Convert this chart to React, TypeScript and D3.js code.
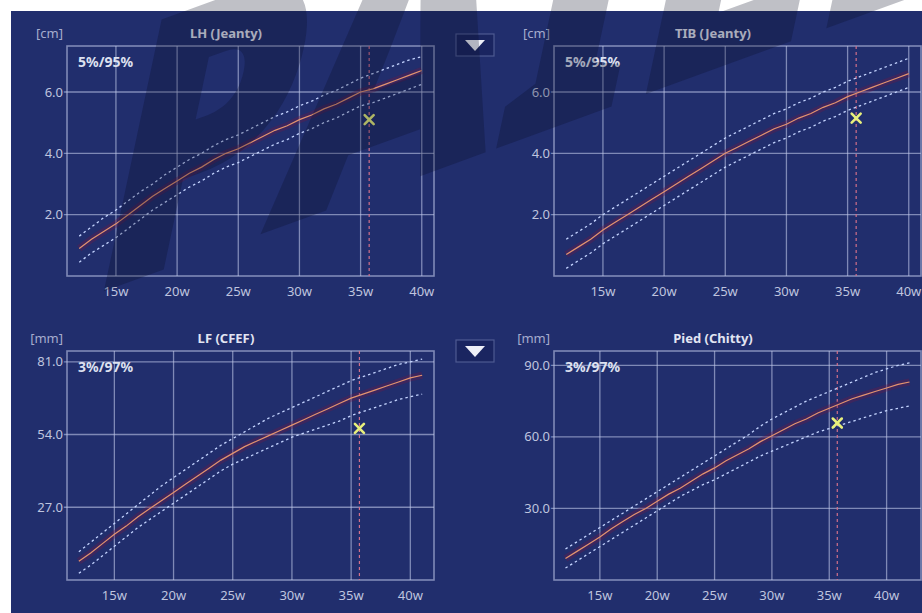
import React from 'react';
import * as d3 from 'd3';

// gestational weeks for each chart
const weeksTop = [12, 13, 14, 15, 16, 17, 18, 19, 20, 21, 22, 23, 24, 25, 26, 27, 28, 29, 30, 31, 32, 33, 34, 35, 36, 37, 38, 39, 40];
const weeksLF = [12, 13, 14, 15, 16, 17, 18, 19, 20, 21, 22, 23, 24, 25, 26, 27, 28, 29, 30, 31, 32, 33, 34, 35, 36, 37, 38, 39, 40, 41];
const weeksFoot = [12, 13, 14, 15, 16, 17, 18, 19, 20, 21, 22, 23, 24, 25, 26, 27, 28, 29, 30, 31, 32, 33, 34, 35, 36, 37, 38, 39, 40, 41, 42];

// LH (Jeanty) [cm]
const lhMedian = [0.9, 1.2, 1.45, 1.7, 2.0, 2.3, 2.6, 2.85, 3.1, 3.35, 3.55, 3.8, 4.0, 4.15, 4.35, 4.55, 4.75, 4.9, 5.1, 5.25, 5.45, 5.6, 5.8, 6.0, 6.1, 6.25, 6.4, 6.55, 6.7];
const lhUpper = [1.3, 1.6, 1.9, 2.15, 2.45, 2.75, 3.0, 3.3, 3.55, 3.8, 4.0, 4.25, 4.45, 4.6, 4.8, 5.0, 5.2, 5.35, 5.55, 5.7, 5.9, 6.05, 6.25, 6.45, 6.6, 6.75, 6.9, 7.05, 7.15];
const lhLower = [0.45, 0.75, 1.0, 1.25, 1.55, 1.85, 2.15, 2.4, 2.65, 2.9, 3.1, 3.35, 3.55, 3.7, 3.9, 4.1, 4.3, 4.45, 4.65, 4.8, 5.0, 5.15, 5.35, 5.55, 5.65, 5.8, 5.95, 6.1, 6.25];

// TIB (Jeanty) [cm]
const tibMedian = [0.7, 0.95, 1.2, 1.5, 1.75, 2.0, 2.25, 2.5, 2.75, 3.0, 3.25, 3.5, 3.75, 4.0, 4.2, 4.4, 4.6, 4.8, 4.95, 5.15, 5.3, 5.5, 5.65, 5.85, 6.0, 6.15, 6.3, 6.45, 6.6];
const tibUpper = [1.2, 1.45, 1.7, 2.0, 2.25, 2.5, 2.75, 3.0, 3.25, 3.5, 3.75, 4.0, 4.25, 4.5, 4.7, 4.9, 5.1, 5.3, 5.45, 5.65, 5.8, 6.0, 6.15, 6.35, 6.5, 6.65, 6.8, 6.95, 7.1];
const tibLower = [0.25, 0.5, 0.75, 1.05, 1.3, 1.55, 1.8, 2.05, 2.3, 2.55, 2.8, 3.05, 3.3, 3.55, 3.75, 3.95, 4.15, 4.35, 4.5, 4.7, 4.85, 5.05, 5.2, 5.4, 5.55, 5.7, 5.85, 6.0, 6.15];

// LF (CFEF) [mm]
const lfMedian = [7, 10, 13.5, 17, 20, 23.5, 26.5, 29.5, 32.5, 35.5, 38.5, 41.5, 44.5, 47, 49.5, 51.5, 53.5, 55.5, 57.5, 59.5, 61.5, 63.5, 65.5, 67.5, 69, 70.5, 72, 73.5, 75, 76];
const lfUpper = [10.5, 14, 17.5, 21, 24.5, 28, 31.5, 35, 38, 41, 44, 47, 50, 52.5, 55, 57.5, 60, 62, 64, 66, 68, 70, 72, 74, 75.5, 77, 78.5, 80, 81, 82];
const lfLower = [2.5, 5.5, 9, 12.5, 16, 19.5, 22.5, 25.5, 28.5, 31.5, 34.5, 37.5, 40.5, 43, 45, 47, 49, 51, 53, 54.5, 56, 57.5, 59, 61, 62.5, 64, 65.5, 67, 68, 69];

// Pied (Chitty) [mm]
const footMedian = [9, 12, 15, 18, 21.5, 24.5, 27.5, 30, 33, 36, 38.5, 41.5, 44.5, 47, 50, 52.5, 55, 58, 60.5, 63, 65.5, 67.5, 70, 72, 74, 76, 77.5, 79, 80.5, 82, 83];
const footUpper = [13, 16, 19, 22, 25, 28, 31, 34, 37, 40, 43, 46, 49, 52, 55, 58, 61, 64.5, 67.5, 70, 72.5, 75, 77, 79, 81, 83, 85, 87, 88.5, 90, 91];
const footLower = [5, 8, 11, 14, 17, 20, 23, 26, 29, 32, 35, 37.5, 40, 42, 44.5, 47, 49.5, 52, 54, 56, 58, 60, 62, 63.5, 65, 66.5, 68, 69.5, 71, 72, 73];

const xTicks = [15, 20, 25, 30, 35, 40];
const cmTicks = [2, 4, 6];
const lfTicks = [27, 54, 81];
const footTicks = [30, 60, 90];

// current exam: [week, value] per chart
const examLH = [35.7, 5.1];
const examTIB = [35.7, 5.15];
const examLF = [35.7, 56.3];
const examFoot = [35.7, 65.8];

const BG = '#212e6d';
const GRID = 'rgba(190,198,232,0.6)';
const TXT = '#bfc4df';
const FONT = '"Noto Sans", "Open Sans", sans-serif';

const panels = [
  { title: 'LH (Jeanty)', unit: '[cm]', pct: '5%/95%', box: [67, 434, 46, 276], xd: [11, 41], yd: [0, 7.5], yTicks: cmTicks, weeks: weeksTop, med: lhMedian, up: lhUpper, lo: lhLower, exam: examLH },
  { title: 'TIB (Jeanty)', unit: '[cm]', pct: '5%/95%', box: [554, 921, 46, 276], xd: [11, 41], yd: [0, 7.5], yTicks: cmTicks, weeks: weeksTop, med: tibMedian, up: tibUpper, lo: tibLower, exam: examTIB },
  { title: 'LF (CFEF)', unit: '[mm]', pct: '3%/97%', box: [67, 434, 351, 580], xd: [11, 42], yd: [0, 85], yTicks: lfTicks, weeks: weeksLF, med: lfMedian, up: lfUpper, lo: lfLower, exam: examLF },
  { title: 'Pied (Chitty)', unit: '[mm]', pct: '3%/97%', box: [554, 921, 351, 580], xd: [11, 43], yd: [0, 96], yTicks: footTicks, weeks: weeksFoot, med: footMedian, up: footUpper, lo: footLower, exam: examFoot },
];

function Panel({ p }) {
  const [x0, x1, y0, y1] = p.box;
  const x = d3.scaleLinear().domain(p.xd).range([x0, x1]);
  const y = d3.scaleLinear().domain(p.yd).range([y1, y0]);
  const line = (vals) => d3.line().x((d, i) => x(p.weeks[i])).y((d) => y(d))(vals);
  const ex = x(p.exam[0]);
  const ey = y(p.exam[1]);

  return (
    <g fontFamily={FONT}>
      <text x={x0 - 4} y={y0 - 8} textAnchor="end" fontSize={13} fill="#a6acce">{p.unit}</text>
      <text x={x0 + 159} y={y0 - 8} textAnchor="middle" fontSize={13} fontWeight="bold" fill="#e2e5f2">{p.title}</text>

      {p.yTicks.map((t) => (
        <g key={t}>
          <line x1={x0 - 6} x2={x1} y1={y(t)} y2={y(t)} stroke={GRID} strokeWidth={1.3} />
          <text x={x0 - 4} y={y(t)} dy="0.35em" textAnchor="end" fontSize={13} fill={TXT} stroke={BG} strokeWidth={3} paintOrder="stroke">{t.toFixed(1)}</text>
        </g>
      ))}
      {xTicks.map((t) => (
        <g key={t}>
          <line x1={x(t)} x2={x(t)} y1={y0} y2={y1} stroke={GRID} strokeWidth={1.3} />
          <text x={x(t)} y={y1 + 15} dy="0.35em" textAnchor="middle" fontSize={13} fill={TXT}>{t}w</text>
        </g>
      ))}
      <rect x={x0} y={y0} width={x1 - x0} height={y1 - y0} fill="none" stroke={GRID} strokeWidth={1.6} />

      <text x={x0 + 11} y={y0 + 21} fontSize={14} fontWeight="bold" fill="#dde1f0">{p.pct}</text>

      <line x1={ex} x2={ex} y1={y0} y2={y1} stroke="#d2708a" strokeWidth={1.2} strokeDasharray="3,3" />

      <path d={line(p.med)} fill="none" stroke="rgba(105,25,70,0.38)" strokeWidth={7} strokeLinejoin="round" />
      <path d={line(p.up)} fill="none" stroke="#c4d4ff" strokeWidth={1.3} strokeDasharray="2.5,3" />
      <path d={line(p.lo)} fill="none" stroke="#c4d4ff" strokeWidth={1.3} strokeDasharray="2.5,3" />
      <path d={line(p.med)} fill="none" stroke="#e39470" strokeWidth={1.2} />

      <g stroke="#e8f07c" strokeWidth={2.6} strokeLinecap="round">
        <line x1={ex - 4.5} x2={ex + 4.5} y1={ey - 4.5} y2={ey + 4.5} />
        <line x1={ex - 4.5} x2={ex + 4.5} y1={ey + 4.5} y2={ey - 4.5} />
      </g>
    </g>
  );
}

function DropButton({ cx, cy }) {
  return (
    <g>
      <rect x={cx - 19} y={cy - 11} width={38} height={22} fill="#1a2560" stroke="#4e5a92" strokeWidth={1.2} />
      <path d={`M${cx - 10},${cy - 5}L${cx + 10},${cy - 5}L${cx},${cy + 6}Z`} fill="#eef0f8" />
    </g>
  );
}

export default function App() {
  return (
    <svg width={922} height={613} style={{ position: 'absolute', left: 0, top: 0 }}>
      <rect width={922} height={613} fill="#ffffff" />
      <rect x={11} y={11} width={911} height={602} fill={BG} />
      {panels.map((p) => (
        <Panel key={p.title} p={p} />
      ))}
      <DropButton cx={475} cy={45} />
      <DropButton cx={475} cy={351} />
      {/* watermark */}
      <g transform="translate(80,300) rotate(-20) skewX(-32)">
        <text x={0} y={0} fontSize={330} fontWeight="900" fontFamily={FONT} fill="rgba(8,12,36,0.26)">
          PAILLE
        </text>
      </g>
    </svg>
  );
}
